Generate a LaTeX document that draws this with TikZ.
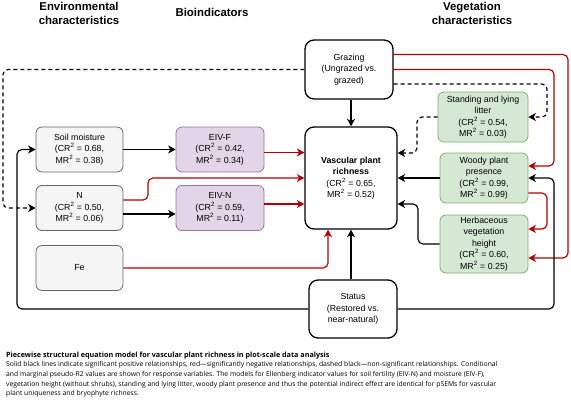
\documentclass[tikz,border=0pt]{standalone}
\usepackage{fontspec}
\setmainfont{Liberation Sans}
\newfontfamily\capfont{Open Sans}
\usetikzlibrary{arrows.meta}
\definecolor{envfill}{HTML}{F5F5F5}
\definecolor{envdraw}{HTML}{666666}
\definecolor{biofill}{HTML}{E1D5E7}
\definecolor{biodraw}{HTML}{9673A6}
\definecolor{vegfill}{HTML}{D5E8D4}
\definecolor{vegdraw}{HTML}{82B366}
\definecolor{negred}{HTML}{B20000}
\newcommand{\crmr}[2]{(CR\textsuperscript{2} = #1,\\MR\textsuperscript{2} = #2)}

\begin{document}
\begin{tikzpicture}[x=1pt,y=-1pt,
    font=\fontsize{8.8}{11.5}\selectfont,
    >={Stealth[length=7.5pt,width=8pt,inset=2.2pt]},
    box/.style={rounded corners=6pt,align=center,inner sep=0.5pt,line width=0.8pt,minimum width=88pt},
    envbox/.style={box,draw=envdraw,fill=envfill,minimum height=45pt},
    biobox/.style={box,draw=biodraw,fill=biofill,minimum height=45pt},
    vegbox/.style={box,draw=vegdraw,fill=vegfill},
    keybox/.style={box,draw=black,fill=white,line width=1.3pt,rounded corners=9pt},
    header/.style={font=\bfseries\fontsize{11.4}{14}\selectfont,align=center},
    plusline/.style={->,line width=1.15pt,rounded corners=5pt},
    minusline/.style={plusline,draw=negred},
    nsline/.style={plusline,dash pattern=on 4pt off 3pt},
    capline/.style={anchor=base west,inner sep=0pt,font=\capfont\fontsize{6.8}{8}\selectfont}
  ]
  \useasboundingbox (0,0) rectangle (571,404);
  % column headers
  \node[header] (envhead) at (79,13) {Environmental\\characteristics};
  \node[header] (biohead) at (212,12) {Bioindicators};
  \node[header] (veghead) at (472,13) {Vegetation\\characteristics};
  %
  \node[keybox,minimum height=59pt] (graz) at (349,69.5) {Grazing\\(Ungrazed vs.\\grazed)};
  \node[keybox,minimum width=92pt,minimum height=102pt] (vpr) at (351,178) {\textbf{Vascular plant}\\\textbf{richness}\\\crmr{0.65}{0.52}};
  \node[keybox,minimum height=58pt] (status) at (353,309) {Status\\(Restored vs.\\near-natural)};
  %
  \node[envbox,minimum width=87pt] (soil) at (79.5,149.5) {Soil moisture\\\crmr{0.68}{0.38}};
  \node[envbox,minimum width=87pt] (n) at (79.5,208) {N\\\crmr{0.50}{0.06}};
  \node[envbox,minimum width=87pt] (fe) at (79.5,268) {Fe};
  \node[biobox] (eivf) at (220,149.5) {EIV-F\\\crmr{0.42}{0.34}};
  \node[biobox] (eivn) at (220,208) {EIV-N\\\crmr{0.59}{0.11}};
  %
  \node[vegbox,minimum width=90pt,minimum height=50pt] (litter) at (483,117) {Standing and lying\\litter\\\crmr{0.54}{0.03}};
  \node[vegbox,minimum height=50pt] (woody) at (484,178) {Woody plant\\presence\\\crmr{0.99}{0.99}};
  \node[vegbox,minimum height=58pt] (herb) at (484,244) {Herbaceous\\vegetation\\height\\\crmr{0.60}{0.25}};
  %
  \coordinate (dl) at (3,208);
  \coordinate (sl) at (17,149.5);
  \coordinate (nb) at (148,178);
  \coordinate (fb) at ([xshift=-23pt]vpr.south);
  \coordinate (fin) at ([yshift=-3pt]eivf.east);
  \coordinate (nin) at ([yshift=4pt]eivn.east);
  \coordinate (ro) at (568,258);
  \coordinate (ri) at (554,166);
  \coordinate (dr) at (547,117);
  \coordinate (dm) at (417,153);
  \coordinate (hm) at (418,204);
  \coordinate (wh) at (547,229);
  \coordinate (sw) at (554,178);
  %
  \draw[nsline] (graz.west) -| (dl) -- (n.west);
  \draw[plusline] (status.west) -| (sl) -- (soil.west);
  \draw[plusline] (soil) -- (eivf);
  \draw[plusline] ([yshift=-6pt]n.east) -- ([yshift=-6pt]eivn.west);
  \draw[minusline] ([yshift=8pt]n.east) -| (nb) -- (nb -| vpr.west);
  \draw[minusline] (fin) -- (fin -| vpr.west);
  \draw[minusline] (nin) -- (nin -| vpr.west);
  \draw[minusline] (fe.east) -| (fb);
  \draw[plusline] (status.north -| vpr) -- (vpr.south);
  \draw[plusline] (graz.south -| vpr) -- (vpr.north);
  %
  \draw[minusline] ([yshift=15pt]graz.east) -| (ro) -- (ro -| herb.east);
  \draw[minusline] (graz.east) -| (ri) -- (ri -| woody.east);
  \draw[nsline] ([yshift=-14.5pt]graz.east) -| (dr) -- (dr -| litter.east);
  \draw[nsline] (litter.west) -| (dm) -- (dm -| vpr.east);
  \draw[plusline] (woody.west) -- (woody.west -| vpr.east);
  \draw[plusline] (herb.west) -| (hm) -- (hm -| vpr.east);
  \draw[minusline] ([yshift=-15pt]woody.east) -| (wh) -- (wh -| herb.east);
  \draw[plusline] (status.east) -| (sw) -- (sw -| woody.east);
  %
  \node[capline,font=\capfont\bfseries\fontsize{7.2}{8}\selectfont] (captitle) at (6,357) {Piecewise structural equation model for vascular plant richness in plot-scale data analysis};
  \node[capline] (cap1) at (6,366.7) {Solid black lines indicate significant positive relationships, red—significantly negative relationships, dashed black—non-significant relationships. Conditional};
  \node[capline] (cap2) at (6,376.4) {and marginal pseudo-R2 values are shown for response variables. The models for Ellenberg indicator values for soil fertility (EIV-N) and moisture (EIV-F),};
  \node[capline] (cap3) at (6,386.1) {vegetation height (without shrubs), standing and lying litter, woody plant presence and thus the potential indirect effect are identical for pSEMs for vascular};
  \node[capline] (cap4) at (6,395.8) {plant uniqueness and bryophyte richness.};
\end{tikzpicture}
\end{document}
